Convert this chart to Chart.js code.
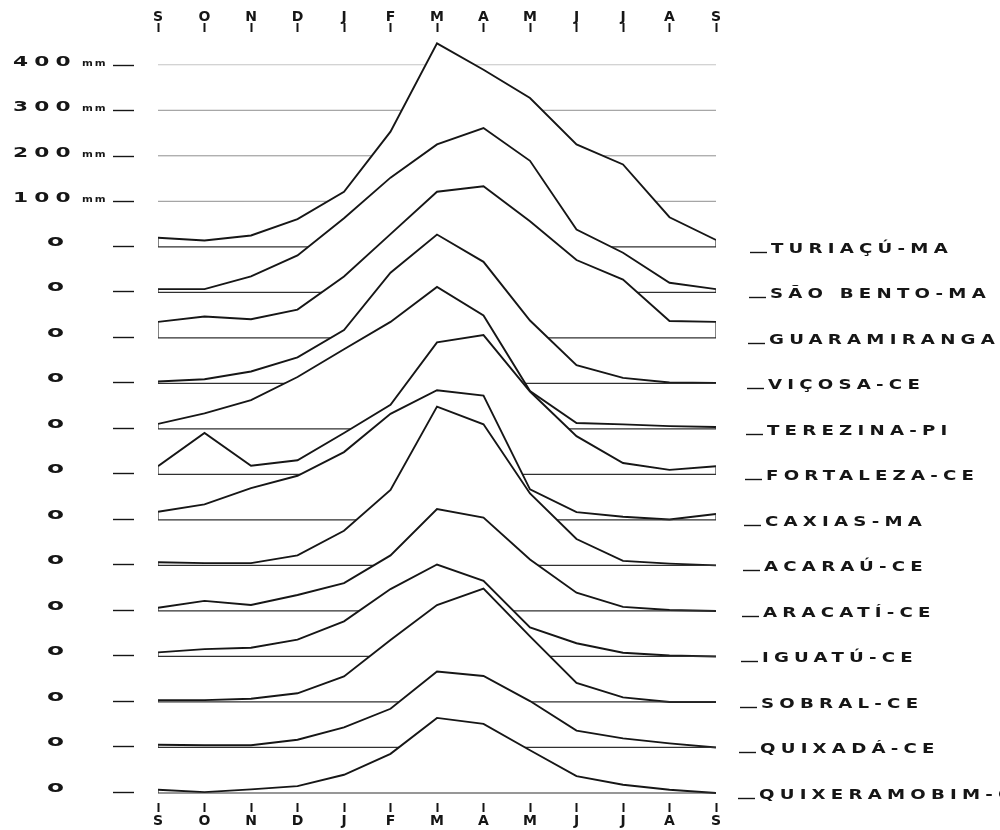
<!DOCTYPE html>
<html lang="pt">
<head>
<meta charset="utf-8">
<title>Regime pluviométrico mensal — estações do Nordeste</title>
<script src="https://cdn.jsdelivr.net/npm/chart.js@4.4.1/dist/chart.umd.min.js"></script>
<style>
  html, body { margin: 0; padding: 0; background: #fff; }
  #wrap { width: 1000px; height: 830px; }
  canvas { display: block; }
</style>
</head>
<body>
<div id="wrap"><canvas id="chuvas" width="1000" height="830"></canvas></div>
<script>
// Meses, de setembro a setembro
const meses = ['S', 'O', 'N', 'D', 'J', 'F', 'M', 'A', 'M', 'J', 'J', 'A', 'S'];

// Estações, de cima para baixo
const estacoes = ['TURIAÇÚ-MA', 'SÃO BENTO-MA', 'GUARAMIRANGA-CE', 'VIÇOSA-CE', 'TEREZINA-PI',
  'FORTALEZA-CE', 'CAXIAS-MA', 'ACARAÚ-CE', 'ARACATÍ-CE', 'IGUATÚ-CE', 'SOBRAL-CE',
  'QUIXADÁ-CE', 'QUIXERAMOBIM-CE'];

// Precipitação média mensal (mm)
const turiacu      = [20, 14, 25, 61, 121, 253, 447, 389, 327, 225, 181, 65, 15];
const saoBento     = [7, 7, 35, 81, 163, 252, 325, 361, 289, 138, 87, 21, 7];
const guaramiranga = [35, 47, 41, 62, 135, 228, 321, 333, 256, 171, 128, 37, 35];
const vicosa       = [4, 9, 26, 57, 117, 243, 327, 267, 138, 40, 12, 2, 1];
const terezina     = [11, 34, 63, 114, 175, 235, 312, 249, 83, 13, 10, 6, 4];
const fortaleza    = [18, 91, 19, 31, 91, 153, 290, 306, 182, 84, 25, 10, 18];
const caxias       = [18, 34, 70, 97, 149, 233, 285, 273, 67, 17, 7, 1, 13];
const acarau       = [7, 5, 5, 22, 76, 166, 349, 310, 158, 58, 10, 4, 0];
const aracati      = [7, 22, 13, 35, 61, 122, 224, 205, 113, 40, 9, 2, 0];
const iguatu       = [9, 16, 19, 37, 77, 148, 202, 166, 64, 29, 8, 2, 0];
const sobral       = [4, 4, 7, 19, 56, 136, 213, 249, 144, 42, 10, 0, 0];
const quixada      = [6, 5, 5, 17, 44, 85, 167, 157, 102, 37, 20, 9, 0];
const quixeramobim = [7, 2, 8, 15, 40, 86, 165, 152, 94, 37, 18, 7, 0];

const series = [turiacu, saoBento, guaramiranga, vicosa, terezina, fortaleza, caxias,
  acarau, aracati, iguatu, sobral, quixada, quixeramobim];

// Escala vertical (mm) marcada à esquerda
const escala = [400, 300, 200, 100];

// Cada estação desce 100 mm na escala comum
const ESPACO = 100;

const TINTA = '#161616';
const ULTIMO_MES = meses.length - 1;

const datasets = [];

// Linhas de referência da escala (ficam por trás de tudo)
escala.forEach(v => {
  datasets.push({
    label: v + ' mm',
    data: [{ x: 0, y: v }, { x: ULTIMO_MES, y: v }],
    borderColor: v === 400 ? '#c4c4c4' : '#8f8f8f',
    borderWidth: 1,
    fill: false,
    pointRadius: 0,
    order: 500
  });
});

// Cada estação: a curva e a linha de base fechada nas pontas.
// As curvas de baixo são desenhadas por cima, com fundo branco.
series.forEach((vals, k) => {
  const base = -ESPACO * k;
  const pts = vals.map((v, i) => ({ x: i, y: v + base }));
  datasets.push({
    label: estacoes[k],
    data: pts,
    nivelBase: base,
    borderColor: TINTA,
    borderWidth: 1.9,
    fill: false,
    pointRadius: 0,
    tension: 0,
    order: 100 - 2 * k
  });
  datasets.push({
    label: estacoes[k] + ' — base',
    data: [
      { x: 0, y: pts[0].y },
      { x: 0, y: base },
      { x: ULTIMO_MES, y: base },
      { x: ULTIMO_MES, y: pts[ULTIMO_MES].y }
    ],
    borderColor: '#303030',
    borderWidth: 1.2,
    fill: false,
    pointRadius: 0,
    tension: 0,
    order: 100 - 2 * k - 1
  });
});

// Fundo branco entre cada curva e a sua base, pintado logo antes da curva
const fundoBranco = {
  id: 'fundoBranco',
  beforeDatasetDraw(chart, args) {
    const ds = chart.data.datasets[args.index];
    if (ds.nivelBase === undefined) return;
    const pts = args.meta.data;
    if (!pts.length) return;
    const yb = chart.scales.y.getPixelForValue(ds.nivelBase);
    const ctx = chart.ctx;
    ctx.save();
    ctx.beginPath();
    ctx.moveTo(pts[0].x, yb);
    pts.forEach(p => ctx.lineTo(p.x, p.y));
    ctx.lineTo(pts[pts.length - 1].x, yb);
    ctx.closePath();
    ctx.fillStyle = '#ffffff';
    ctx.fill();
    ctx.restore();
  }
};

// Texto com largura esticada e espaçamento entre letras
function textoLargo(ctx, txt, x, yBase, font, esticar, espaco) {
  ctx.save();
  ctx.font = font;
  ctx.letterSpacing = espaco + 'px';
  ctx.textAlign = 'left';
  ctx.textBaseline = 'alphabetic';
  ctx.translate(x, yBase);
  ctx.scale(esticar, 1);
  ctx.fillText(txt, 0, 0);
  ctx.restore();
}

function traco(ctx, x0, x1, y, w) {
  ctx.beginPath();
  ctx.lineWidth = w || 1.5;
  ctx.moveTo(x0, y);
  ctx.lineTo(x1, y);
  ctx.stroke();
}

const rotulos = {
  id: 'rotulos',
  afterDraw(chart) {
    const ctx = chart.ctx;
    const y = chart.scales.y;
    ctx.save();
    ctx.fillStyle = TINTA;
    ctx.strokeStyle = TINTA;

    // Escala em mm
    escala.forEach(v => {
      const py = Math.round(y.getPixelForValue(v)) + 0.5;
      textoLargo(ctx, String(v), 13, py, 'bold 14px "DejaVu Sans"', 1.55, 4);
      textoLargo(ctx, 'mm', 82, py, 'bold 8px "DejaVu Sans"', 1.3, 1.5);
      traco(ctx, 113, 134, py, 1.4);
    });

    // Zero de cada estação e nome à direita
    estacoes.forEach((nome, k) => {
      const py = Math.round(y.getPixelForValue(-ESPACO * k)) + 0.5;
      textoLargo(ctx, 'o', 47, py - 2, 'bold 15px "DejaVu Sans"', 1.65, 0);
      traco(ctx, 113, 134, py - 1, 1.4);
      const x0 = 750 - k;
      traco(ctx, x0, x0 + 17, py + 5, 1.4);
      textoLargo(ctx, nome, x0 + 21, py + 5, 'bold 14px "DejaVu Sans"', 1.3, 4);
    });
    ctx.restore();
  }
};

const eixoMeses = (posicao, altura, afastamento) => ({
  type: 'linear',
  position: posicao,
  min: 0,
  max: ULTIMO_MES,
  afterFit: s => { s.height = altura; },
  ticks: {
    stepSize: 1,
    autoSkip: false,
    maxRotation: 0,
    padding: afastamento,
    color: TINTA,
    font: { family: 'DejaVu Sans', size: 14, weight: 'bold' },
    callback: v => meses[v]
  },
  grid: {
    drawOnChartArea: false,
    drawTicks: true,
    tickLength: 9,
    tickWidth: 2,
    tickColor: TINTA
  },
  border: { display: false }
});

new Chart(document.getElementById('chuvas'), {
  type: 'line',
  data: { datasets },
  options: {
    responsive: false,
    animation: false,
    devicePixelRatio: 1,
    layout: { padding: { left: 0, right: 284, top: 0, bottom: 0 } },
    plugins: {
      legend: { display: false },
      tooltip: { enabled: false }
    },
    scales: {
      x: eixoMeses('bottom', 27, 1),
      x2: eixoMeses('top', 32, -3),
      y: {
        type: 'linear',
        position: 'left',
        min: -1222,
        max: 472,
        afterFit: s => { s.width = 158; },
        ticks: { display: false },
        grid: { display: false },
        border: { display: false }
      }
    }
  },
  plugins: [fundoBranco, rotulos]
});
</script>
</body>
</html>
